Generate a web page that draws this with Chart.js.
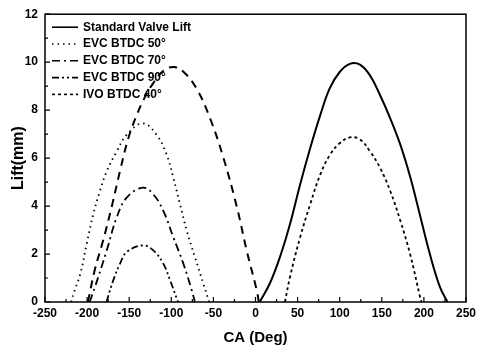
<!DOCTYPE html>
<html>
<head>
<meta charset="utf-8">
<script src="https://cdn.jsdelivr.net/npm/chart.js@4.4.0/dist/chart.umd.min.js"></script>
<style>
body { margin: 0; background: #fff; }
canvas { display: block; }
</style>
</head>
<body>
<canvas id="grafica" width="481" height="351"></canvas>
<script>
// Valores (CA en grados, Lift en mm)
const stdCA = [5, 17, 29, 41, 53, 65, 77, 88, 100, 112, 124, 136, 148, 160, 172, 184, 195, 207, 219, 228];
const stdLift = [0, 0.77, 1.87, 3.25, 4.9, 6.42, 7.8, 8.9, 9.59, 9.93, 9.9, 9.45, 8.62, 7.66, 6.56, 5.18, 3.67, 2.01, 0.63, 0];

// curva de escape estándar (trazo largo, sin entrada en la leyenda)
const exhCA = [-199, -191, -181, -171, -161, -151, -141, -132, -121, -109, -97, -85, -70, -54, -38, -22, -10.5, 1.4, 4];
const exhLift = [0, 1.32, 2.56, 3.94, 5.45, 6.83, 7.8, 8.5, 9.15, 9.65, 9.8, 9.58, 8.9, 7.66, 6.0, 3.94, 2.15, 0.5, 0];

const evc50CA = [-219, -216, -208, -200.5, -192.6, -184.7, -176.7, -164.8, -153, -134, -117.4, -105.5, -97.6, -89.7, -81.7, -71.9, -62, -55];
const evc50Lift = [0, 0.36, 1.18, 2.42, 3.67, 4.63, 5.45, 6.28, 6.97, 7.45, 6.97, 6.14, 5.18, 4.08, 2.98, 1.87, 0.77, 0];

const evc70CA = [-197, -190.6, -176.7, -164.8, -153, -134, -121.4, -109.5, -97.6, -85.7, -75.8, -72];
const evc70Lift = [0, 0.63, 2.15, 3.53, 4.35, 4.77, 4.49, 3.8, 2.7, 1.6, 0.5, 0];

const evc90CA = [-177, -168.9, -160.9, -153, -134, -121.4, -109.5, -101.5, -93.6, -92];
const evc90Lift = [0, 0.91, 1.6, 2.08, 2.36, 2.15, 1.6, 0.91, 0.15, 0];

const ivoCA = [35, 41, 53, 65, 77, 88.5, 100, 112, 124, 136, 148, 160, 172, 183.5, 195.4, 197];
const ivoLift = [0, 1.05, 2.7, 4.08, 5.32, 6.14, 6.62, 6.86, 6.78, 6.28, 5.59, 4.63, 3.39, 2.01, 0.22, 0];

const xTicks = [-250, -200, -150, -100, -50, 0, 50, 100, 150, 200, 250];
const yTicks = [0, 2, 4, 6, 8, 10, 12];

const fuente = "'Liberation Sans', Arial, sans-serif";

function puntos(xs, ys) {
    return xs.map(function (x, i) { return { x: x, y: ys[i] }; });
}

function serie(label, xs, ys, dash, width, enLeyenda) {
    return {
        label: label,
        data: puntos(xs, ys),
        borderColor: '#000',
        borderWidth: width,
        borderDash: dash,
        pointRadius: 0,
        fill: false,
        tension: 0.4,
        enLeyenda: enLeyenda
    };
}

// Marco, marcas interiores de los ejes y leyenda dentro del área
const marcoPlugin = {
    id: 'marco',
    afterDraw(chart) {
        const ctx = chart.ctx;
        const a = chart.chartArea;
        const xs = chart.scales.x;
        const ys = chart.scales.y;
        ctx.save();
        ctx.strokeStyle = '#000';
        ctx.lineWidth = 1.5;
        ctx.setLineDash([]);
        ctx.strokeRect(a.left, a.top, a.right - a.left, a.bottom - a.top);

        ctx.lineWidth = 1.2;
        ctx.beginPath();
        for (let v = -250; v <= 250; v += 25) {
            const px = xs.getPixelForValue(v);
            const len = (v % 50 === 0) ? 5 : 3;
            ctx.moveTo(px, a.bottom);
            ctx.lineTo(px, a.bottom - len);
        }
        for (let v = 0; v <= 12; v += 1) {
            const py = ys.getPixelForValue(v);
            const len = (v % 2 === 0) ? 5 : 3;
            ctx.moveTo(a.left, py);
            ctx.lineTo(a.left + len, py);
        }
        ctx.stroke();

        // leyenda
        let y = a.top + 13;
        ctx.font = 'bold 12px ' + fuente;
        ctx.textBaseline = 'middle';
        ctx.fillStyle = '#000';
        chart.data.datasets.forEach(function (ds) {
            if (!ds.enLeyenda) return;
            ctx.lineWidth = 1.6;
            ctx.setLineDash(ds.borderDash);
            ctx.beginPath();
            ctx.moveTo(a.left + 7, y);
            ctx.lineTo(a.left + 33, y);
            ctx.stroke();
            ctx.setLineDash([]);
            ctx.fillText(ds.label, a.left + 38, y);
            y += 16.8;
        });
        ctx.restore();
    }
};

new Chart(document.getElementById('grafica'), {
    type: 'line',
    data: {
        datasets: [
            serie('Standard Valve Lift', stdCA, stdLift, [], 2, true),
            serie('EVC BTDC 50°', evc50CA, evc50Lift, [1.5, 4], 1.8, true),
            serie('EVC BTDC 70°', evc70CA, evc70Lift, [8, 4, 2, 4], 1.8, true),
            serie('EVC BTDC 90°', evc90CA, evc90Lift, [7, 3, 2, 3, 2, 3], 1.8, true),
            serie('IVO BTDC 40°', ivoCA, ivoLift, [3, 3], 1.8, true),
            serie('Standard exhaust', exhCA, exhLift, [8, 6], 2, false)
        ]
    },
    options: {
        responsive: false,
        animation: false,
        layout: { padding: { top: 12, right: 15, left: 0, bottom: 0 } },
        plugins: { legend: { display: false }, tooltip: { enabled: false } },
        scales: {
            x: {
                type: 'linear',
                min: -250,
                max: 250,
                afterFit: function (scale) { scale.height = 49; },
                afterBuildTicks: function (scale) {
                    scale.ticks = xTicks.map(function (v) { return { value: v }; });
                },
                grid: { display: false, drawTicks: false },
                border: { display: false },
                ticks: { color: '#000', padding: 4, maxRotation: 0, font: { family: fuente, size: 12, weight: 'bold' } },
                title: { display: true, text: 'CA (Deg)', color: '#000', padding: { top: 0, bottom: 4 }, font: { family: fuente, size: 15, weight: 'bold' } }
            },
            y: {
                min: 0,
                max: 12,
                afterFit: function (scale) { scale.width = 45; },
                afterBuildTicks: function (scale) {
                    scale.ticks = yTicks.map(function (v) { return { value: v }; });
                },
                grid: { display: false, drawTicks: false },
                border: { display: false },
                ticks: { color: '#000', padding: 7, font: { family: fuente, size: 12, weight: 'bold' } },
                title: { display: true, text: 'Lift(mm)', color: '#000', padding: { top: 9, bottom: 0 }, font: { family: fuente, size: 16, weight: 'bold' } }
            }
        }
    },
    plugins: [marcoPlugin]
});
</script>
</body>
</html>
